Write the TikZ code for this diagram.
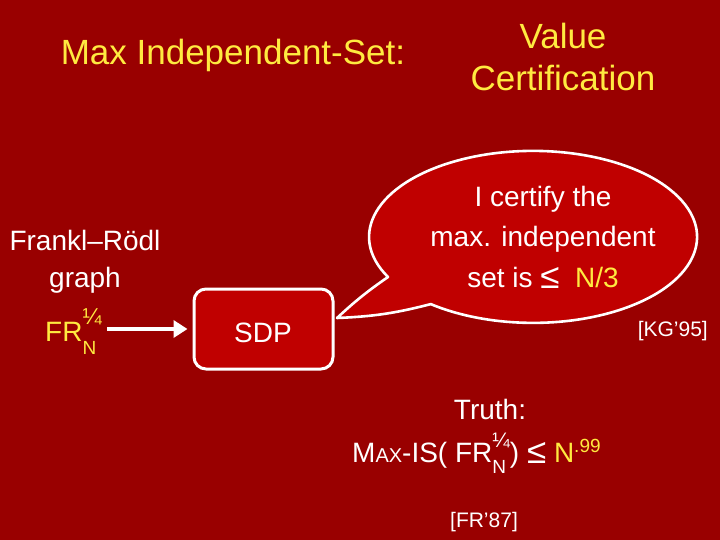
\documentclass[tikz,border=0pt]{standalone}
\usepackage{fontspec}
\setmainfont{Liberation Sans}
\usetikzlibrary{arrows.meta,calc}
\definecolor{bg}{HTML}{990000}
\definecolor{boxred}{HTML}{C00000}
\definecolor{ylw}{HTML}{FFEA40}
\newcommand{\fsz}[1]{\fontsize{#1}{#1}\selectfont}
\newcommand{\bigle}{\raisebox{-1pt}{\scalebox{1.25}{≤}}}
\begin{document}
\begin{tikzpicture}[x=1pt,y=-1pt,
  txt/.style={text=white, inner sep=0pt, anchor=base, align=center},
  ttl/.style={text=ylw, inner sep=0pt, anchor=base, align=center, font=\fsz{35}},
  body/.style={font=\fsz{28}},
  ref/.style={text=white, inner sep=0pt, font=\fsz{21}},
  arr/.style={white, line width=4pt, -{Triangle[length=14pt,width=17pt]}},
  outline/.style={draw=white, line width=2.6pt, line join=round}]
\fill[bg] (0,0) rectangle (720,540);
\useasboundingbox (0,0) rectangle (720,540);

% titles
\node[ttl] (t1) at (233,65) {Max Independent-Set:};
\node[ttl] (t2) at (563,49) {Value};
\node[ttl] (t3) at (563,91) {Certification};

% speech bubble
\coordinate (bc) at (529,238);
\coordinate (tip) at (337,318);
\path[fill=boxred, outline]
  (388,277) arc[start angle=152.2, end angle=488.6, x radius=164, y radius=86]
  to[bend left=6] (tip) to[bend left=4] cycle;
\node[txt, body] (b1) at (543,207) {I certify the};
\node[txt, body] (b2) at (543,247) {max. independent};
\node[txt, body] (b3) at (543,287) {set is \bigle\ \ \textcolor{ylw}{N/3}};

% left labels
\node[txt, body] (fr1) at (85,250) {Frankl–Rödl};
\node[txt, body] (fr2) at (85,287) {graph};
\node[inner sep=0pt, anchor=base west, text=ylw, body] (fr) at (45,341)
  {FR\rlap{\raisebox{17pt}{\fsz{23}¼}}\raisebox{-13pt}{\fsz{19}N}};

% SDP box
\node[fill=boxred, outline, line width=3pt, rounded corners=12pt,
      minimum width=139pt, minimum height=80pt, inner sep=0pt] (sdp) at (263.5,329) {};
\node[txt, body] (sdptxt) at (263,342) {SDP};
\draw[arr, shorten <=11pt, shorten >=5pt] (fr.east |- sdp.west) -- (sdp.west);

\node[ref, anchor=base east] (kg) at (708,336) {[KG’95]};

% truth
\node[txt, body] (tr) at (490,419) {Truth:};
\node[inner sep=0pt, anchor=base west, text=white, body] (mis) at (352,462)
  {M{\fsz{20}AX}-IS( FR\rlap{\raisebox{-11pt}{\fsz{19}N}}\raisebox{15pt}{\fsz{21}¼})
   \bigle\ \textcolor{ylw}{N\raisebox{10pt}{\fsz{19}.99}}};
\node[ref, anchor=base] (fr87) at (484,527) {[FR’87]};
\end{tikzpicture}
\end{document}
